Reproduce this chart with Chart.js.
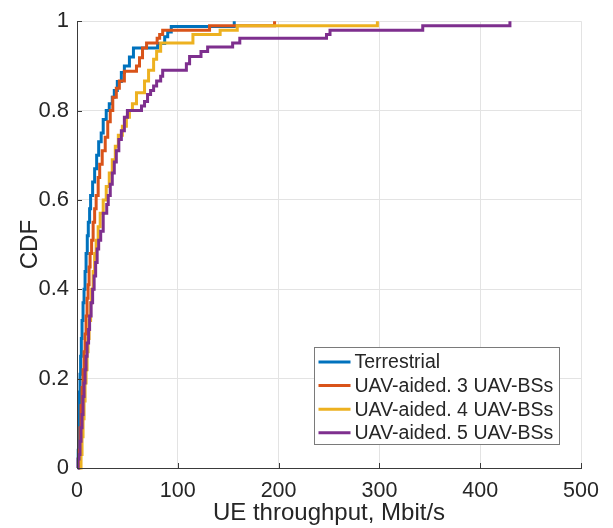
<!DOCTYPE html>
<html lang="en">
<head>
<meta charset="UTF-8">
<title>UE throughput CDF</title>
<script src="https://cdn.jsdelivr.net/npm/chart.js"></script>
<style>
    html, body { margin: 0; padding: 0; background: #fff; }
    #wrap { width: 613px; height: 528px; position: relative; }
</style>
</head>
<body>
<div id="wrap"><canvas id="cdfChart"></canvas></div>
<script>
// Empirical CDF steps: throughput (Mbit/s) where each step happens, and the CDF level after it
const terrestrialX   = [1.0, 1.2, 1.6, 2.0, 2.5, 3.0, 3.6, 4.3, 5.0, 6.0, 7.0, 8.0, 9.0, 10.2, 11.2, 12.5, 13.5, 15.5, 17.5, 19.5, 21.5, 24.0, 26.0, 29.0, 32.0, 35.0, 37.0, 40.0, 44.0, 47.0, 52.0, 56.0, 80.0, 87.0, 90.0, 93.5, 156.0];
const terrestrialCdf = [0.00, 0.04, 0.08, 0.12, 0.17, 0.21, 0.25, 0.29, 0.33, 0.37, 0.40, 0.44, 0.48, 0.52, 0.55, 0.58, 0.61, 0.64, 0.67, 0.70, 0.73, 0.75, 0.78, 0.80, 0.815, 0.83, 0.845, 0.865, 0.885, 0.90, 0.92, 0.94, 0.95, 0.965, 0.976, 0.988, 1.0];

const uav3X   = [1.5, 2.0, 3.0, 4.0, 5.0, 6.0, 7.0, 8.0, 9.0, 10.0, 11.0, 12.0, 13.0, 14.5, 16.0, 17.5, 19.0, 21.0, 22.5, 25.0, 28.0, 30.5, 33.0, 35.5, 39.0, 42.0, 47.0, 59.0, 62.0, 65.0, 69.0, 79.5, 82.0, 85.0, 131.5, 196.0];
const uav3Cdf = [0.00, 0.04, 0.09, 0.14, 0.18, 0.22, 0.26, 0.30, 0.34, 0.38, 0.41, 0.45, 0.48, 0.51, 0.55, 0.58, 0.61, 0.65, 0.68, 0.71, 0.74, 0.775, 0.80, 0.83, 0.85, 0.866, 0.888, 0.90, 0.918, 0.94, 0.951, 0.962, 0.97, 0.98, 0.99, 1.0];

const uav4X   = [3.0, 4.0, 5.0, 6.0, 7.0, 8.0, 9.0, 10.0, 11.0, 12.0, 13.5, 14.5, 16.0, 17.5, 19.0, 21.0, 23.0, 26.0, 29.0, 32.0, 35.0, 38.0, 41.0, 45.0, 49.0, 52.0, 55.0, 59.0, 67.0, 71.0, 76.0, 79.0, 83.0, 115.0, 142.0, 159.0, 298.0];
const uav4Cdf = [0.00, 0.03, 0.07, 0.11, 0.15, 0.19, 0.22, 0.26, 0.29, 0.33, 0.37, 0.40, 0.44, 0.48, 0.51, 0.54, 0.57, 0.60, 0.63, 0.66, 0.69, 0.72, 0.745, 0.765, 0.785, 0.80, 0.815, 0.84, 0.866, 0.89, 0.915, 0.933, 0.951, 0.97, 0.98, 0.99, 1.0];

const uav5X   = [0.5, 1.0, 2.0, 3.0, 4.0, 5.0, 6.0, 7.0, 8.0, 9.0, 10.0, 11.5, 12.5, 14.0, 15.5, 17.0, 18.5, 20.0, 21.5, 23.5, 26.0, 29.5, 31.0, 33.0, 35.0, 37.0, 39.0, 41.5, 44.0, 47.0, 50.0, 64.0, 67.0, 70.0, 73.0, 76.0, 79.0, 83.0, 85.0, 108.5, 111.7, 123.0, 129.6, 154.4, 161.5, 247.5, 251.0, 343.0, 429.5];
const uav5Cdf = [0.00, 0.02, 0.03, 0.06, 0.09, 0.12, 0.16, 0.19, 0.22, 0.25, 0.28, 0.31, 0.34, 0.37, 0.40, 0.43, 0.46, 0.49, 0.51, 0.53, 0.57, 0.59, 0.61, 0.635, 0.66, 0.685, 0.71, 0.735, 0.755, 0.785, 0.80, 0.81, 0.82, 0.836, 0.845, 0.855, 0.866, 0.877, 0.89, 0.905, 0.921, 0.932, 0.942, 0.951, 0.962, 0.97, 0.98, 0.99, 1.0];

const seriesNames = ['Terrestrial', 'UAV-aided. 3 UAV-BSs', 'UAV-aided. 4 UAV-BSs', 'UAV-aided. 5 UAV-BSs'];
const xTickValues = [0, 100, 200, 300, 400, 500];
const yTickValues = [0, 0.2, 0.4, 0.6, 0.8, 1];

const seriesColors = ['#0072BD', '#D95319', '#EDB120', '#7E2F8E'];
const FONT = "'Liberation Sans', Arial, Helvetica, sans-serif";
const AXIS_COLOR = '#3a3a3a';
const TEXT_COLOR = '#262626';

function toPoints(xs, ys) {
    return xs.map((x, i) => ({ x: x, y: ys[i] }));
}

const seriesData = [
    toPoints(terrestrialX, terrestrialCdf),
    toPoints(uav3X, uav3Cdf),
    toPoints(uav4X, uav4Cdf),
    toPoints(uav5X, uav5Cdf)
];

// inward tick marks on the left and bottom axes
const innerTicks = {
    id: 'innerTicks',
    afterDatasetsDraw(chart) {
        const { ctx, chartArea, scales } = chart;
        ctx.save();
        ctx.strokeStyle = AXIS_COLOR;
        ctx.lineWidth = 1;
        ctx.beginPath();
        xTickValues.forEach(v => {
            const px = Math.round(scales.x.getPixelForValue(v)) + 0.5;
            ctx.moveTo(px, chartArea.bottom);
            ctx.lineTo(px, chartArea.bottom - 5);
        });
        yTickValues.forEach(v => {
            const py = Math.round(scales.y.getPixelForValue(v)) + 0.5;
            ctx.moveTo(chartArea.left, py);
            ctx.lineTo(chartArea.left + 5, py);
        });
        // axis lines drawn again on top of the curves
        ctx.moveTo(chartArea.left + 0.5, chartArea.top);
        ctx.lineTo(chartArea.left + 0.5, chartArea.bottom + 0.5);
        ctx.lineTo(chartArea.right, chartArea.bottom + 0.5);
        ctx.stroke();
        ctx.restore();
    }
};

// boxed legend inside the lower-right corner of the plot
const insideLegend = {
    id: 'insideLegend',
    afterDraw(chart) {
        const { ctx, chartArea } = chart;
        const w = 245, h = 97;
        const left = Math.round(chartArea.right - 22 - w) + 0.5;
        const top = Math.round(chartArea.bottom - 24 - h) + 0.5;
        ctx.save();
        ctx.fillStyle = '#ffffff';
        ctx.fillRect(left, top, w, h);
        ctx.strokeStyle = '#7a7a7a';
        ctx.lineWidth = 1;
        ctx.strokeRect(left, top, w, h);
        ctx.font = '19.5px ' + FONT;
        ctx.textBaseline = 'middle';
        ctx.textAlign = 'left';
        chart.data.datasets.forEach((ds, i) => {
            const y = top + 14.5 + i * 23.6;
            ctx.strokeStyle = ds.borderColor;
            ctx.lineWidth = 3;
            ctx.beginPath();
            ctx.moveTo(left + 4, y);
            ctx.lineTo(left + 36, y);
            ctx.stroke();
            ctx.fillStyle = TEXT_COLOR;
            ctx.fillText(ds.label, left + 40, y + 1);
        });
        ctx.restore();
    }
};

const ctx = document.getElementById('cdfChart').getContext('2d');
const cdfChart = new Chart(ctx, {
    type: 'line',
    data: {
        datasets: seriesData.map((pts, i) => ({
            label: seriesNames[i],
            data: pts,
            borderColor: seriesColors[i],
            backgroundColor: seriesColors[i],
            borderWidth: 3,
            stepped: true,
            pointRadius: 0,
            fill: false,
            clip: false,
            borderJoinStyle: 'miter',
            borderCapStyle: 'butt',
            // later series are painted over earlier ones
            order: seriesData.length - i
        }))
    },
    options: {
        responsive: true,
        maintainAspectRatio: false,
        animation: false,
        layout: { padding: { left: 0, right: 32, top: 16, bottom: 0 } },
        plugins: {
            legend: { display: false },
            tooltip: { enabled: false }
        },
        scales: {
            x: {
                type: 'linear',
                min: 0,
                max: 500,
                afterBuildTicks: s => { s.ticks = xTickValues.map(v => ({ value: v })); },
                afterFit: s => { s.height = 60; },
                grid: { color: '#e3e3e3', drawTicks: false },
                border: { color: AXIS_COLOR, width: 1 },
                ticks: {
                    padding: 10,
                    maxRotation: 0,
                    color: TEXT_COLOR,
                    font: { family: FONT, size: 21.5 }
                },
                title: {
                    display: true,
                    text: 'UE throughput, Mbit/s',
                    color: TEXT_COLOR,
                    font: { family: FONT, size: 24 },
                    padding: { top: 0, bottom: 0 }
                }
            },
            y: {
                type: 'linear',
                min: 0,
                max: 1,
                afterBuildTicks: s => { s.ticks = yTickValues.map(v => ({ value: v })); },
                afterFit: s => { s.width = 77; },
                grid: { color: '#e3e3e3', drawTicks: false },
                border: { color: AXIS_COLOR, width: 1 },
                ticks: {
                    padding: 8,
                    color: TEXT_COLOR,
                    font: { family: FONT, size: 22 },
                    callback: v => String(Math.round(v * 10) / 10)
                },
                title: {
                    display: true,
                    text: 'CDF',
                    color: TEXT_COLOR,
                    font: { family: FONT, size: 24 },
                    padding: { top: 16, bottom: 0 }
                }
            }
        }
    },
    plugins: [innerTicks, insideLegend]
});
</script>
</body>
</html>
